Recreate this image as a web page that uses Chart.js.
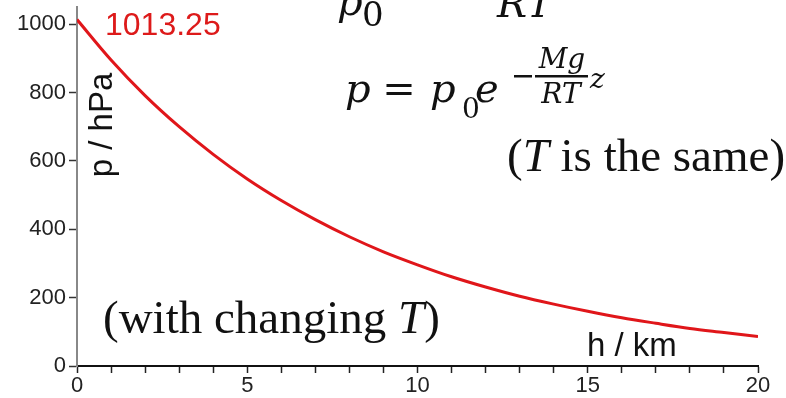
<!DOCTYPE html>
<html>
<head>
<meta charset="utf-8">
<script src="https://cdn.jsdelivr.net/npm/chart.js@4.4.1/dist/chart.umd.min.js"></script>
<style>
  html, body { margin: 0; padding: 0; background: #fff; }
  #wrap { width: 786px; height: 398px; }
</style>
</head>
<body>
<div id="wrap"><canvas id="pressureChart" width="786" height="398"></canvas></div>
<script>
// altitude (km) and pressure (hPa)
const heights   = [0, 1, 2, 3, 4, 5, 6, 7, 8, 9, 10, 11, 12, 13, 14, 15, 16, 17, 18, 19, 20];
const pressures = [1013.25, 895, 791, 700, 619, 547, 484, 428, 378, 334, 296, 261, 231, 204, 181, 160, 141, 125, 110, 98, 86];
const xLabelTicks = [0, 5, 10, 15, 20];
const yLabelTicks = [0, 200, 400, 600, 800, 1000];

const SANS = '"Liberation Sans", Arial, sans-serif';
const SERIF = '"Liberation Serif", "Times New Roman", serif';
const MATH = '"DejaVu Serif", serif';

// all the text drawn over the plot
const annotations = {
    id: 'annotations',
    afterDraw(chart) {
        const ctx = chart.ctx;
        ctx.save();
        ctx.textBaseline = 'alphabetic';
        ctx.textAlign = 'left';

        // start value
        ctx.fillStyle = '#dd1a1a';
        ctx.font = '32px ' + SANS;
        ctx.fillText('1013.25', 105, 35);

        // axis titles
        ctx.fillStyle = '#111';
        ctx.font = '33px ' + SANS;
        ctx.fillText('h / km', 587, 356);
        ctx.save();
        ctx.translate(112, 125);
        ctx.rotate(-Math.PI / 2);
        ctx.textAlign = 'center';
        ctx.fillText('p / hPa', 0, 0);
        ctx.restore();

        // serif notes
        const note = (parts, x, y) => {
            parts.forEach(([txt, italic]) => {
                ctx.font = (italic ? 'italic ' : '') + '47px ' + SERIF;
                ctx.fillText(txt, x, y);
                x += ctx.measureText(txt).width;
            });
        };
        note([['(with changing ', false], ['T', true], [')', false]], 103, 333);
        note([['(', false], ['T', true], [' is the same)', false]], 507, 171);

        // formula cut at the top
        ctx.font = 'italic 40px ' + MATH;
        ctx.fillText('p', 337, 15);
        ctx.fillText('RT', 497, 17);
        ctx.font = '34px ' + MATH;
        ctx.fillText('0', 362, 26);

        // p = p0 e^(-Mg/RT z)
        ctx.font = 'italic 40px ' + MATH;
        ctx.fillText('p', 345, 102);
        ctx.fillText('p', 430, 102);
        ctx.fillText('e', 475, 102);
        ctx.font = '40px ' + MATH;
        ctx.textAlign = 'center';
        ctx.fillText('=', 399, 102);
        ctx.textAlign = 'left';
        ctx.font = '28px ' + MATH;
        ctx.fillText('0', 462, 118);
        ctx.fillRect(514, 75, 18, 2.5);
        ctx.fillRect(535, 75, 53, 2.5);
        ctx.font = 'italic 28px ' + MATH;
        ctx.textAlign = 'center';
        ctx.fillText('Mg', 562, 68);
        ctx.fillText('RT', 561, 103);
        ctx.textAlign = 'left';
        ctx.fillText('z', 590, 88);

        ctx.restore();
    }
};

new Chart(document.getElementById('pressureChart'), {
    type: 'line',
    data: {
        datasets: [{
            data: heights.map((h, i) => ({ x: h, y: pressures[i] })),
            borderColor: '#e0161a',
            borderWidth: 3,
            pointRadius: 0,
            fill: false,
            cubicInterpolationMode: 'monotone'
        }]
    },
    options: {
        responsive: false,
        animation: false,
        layout: { padding: { top: 7, right: 28, left: 0, bottom: 0 } },
        plugins: { legend: { display: false }, tooltip: { enabled: false } },
        scales: {
            x: {
                type: 'linear',
                min: 0,
                max: 20,
                afterFit: s => { s.height = 32; s.paddingLeft = 0; s.paddingRight = 0; },
                border: { color: '#111', width: 2 },
                grid: { drawOnChartArea: false, drawTicks: true, tickLength: 7, tickColor: '#222', tickWidth: 1.5 },
                ticks: {
                    stepSize: 1,
                    autoSkip: false,
                    maxRotation: 0,
                    padding: 0,
                    color: '#222',
                    font: { size: 22, family: SANS },
                    callback: v => xLabelTicks.includes(v) ? String(v) : ''
                }
            },
            y: {
                min: 0,
                max: 1050,
                afterFit: s => { s.width = 77; s.paddingTop = 0; s.paddingBottom = 0; },
                border: { color: '#888', width: 2 },
                grid: { drawOnChartArea: false, drawTicks: true, tickLength: 8, tickColor: '#333', tickWidth: 1.5 },
                ticks: {
                    stepSize: 200,
                    includeBounds: false,
                    padding: 3,
                    color: '#222',
                    font: { size: 22, family: SANS },
                    callback: v => yLabelTicks.includes(v) ? String(v) : ''
                }
            }
        }
    },
    plugins: [annotations]
});
</script>
</body>
</html>
